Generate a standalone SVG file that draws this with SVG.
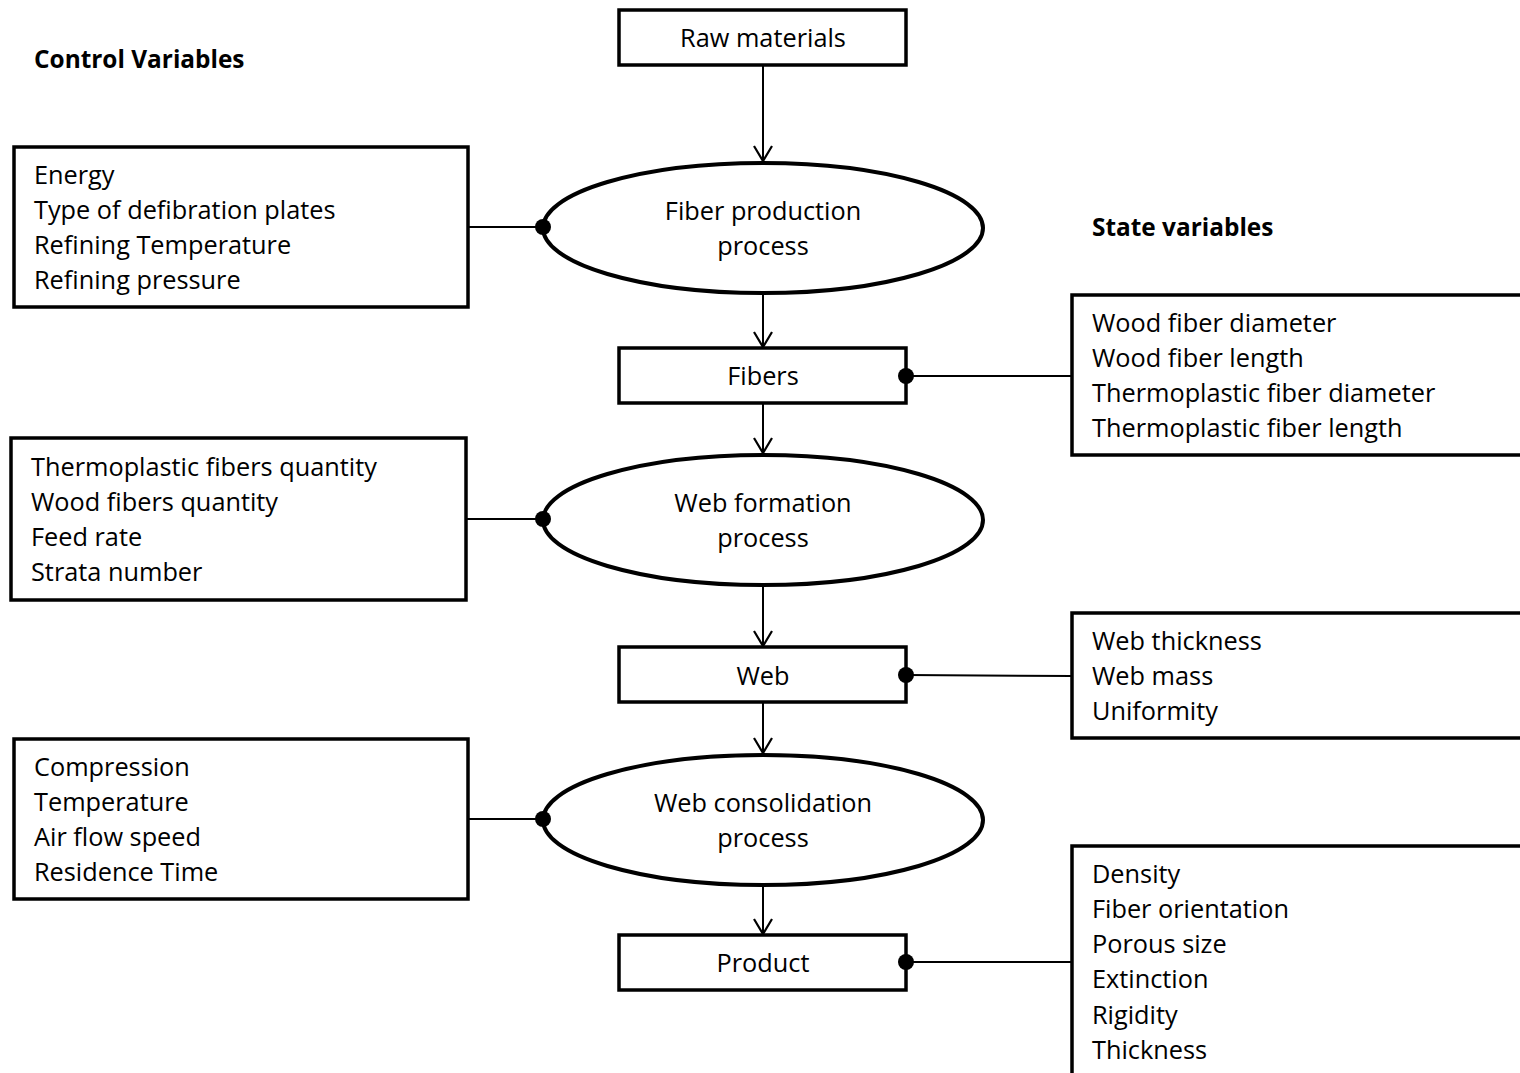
<svg xmlns="http://www.w3.org/2000/svg" width="1520" height="1073" viewBox="0 0 1520 1073">
  <style>
    text { font-family: "Open Sans", "Noto Sans", "Liberation Sans", sans-serif; font-size: 25.3px; fill: #000; }
    .c { text-anchor: middle; }
    .b { font-weight: bold; font-size: 24.4px; }
    .box { fill: #fff; stroke: #000; stroke-width: 3.5; }
    .proc { fill: #fff; stroke: #000; stroke-width: 4; }
    .flow { fill: none; stroke: #000; stroke-width: 2; marker-end: url(#vhead); }
    .link { fill: none; stroke: #000; stroke-width: 2; }
    .dot { fill: #000; }
  </style>
  <defs>
    <marker id="vhead" markerWidth="20" markerHeight="24" refX="16" refY="10" orient="auto" markerUnits="userSpaceOnUse" viewBox="0 0 20 20">
      <path d="M1,1 L16,10 L1,19" fill="none" stroke="#000" stroke-width="2.2"/>
    </marker>
  </defs>

  <rect width="1520" height="1073" fill="#fff"/>

  <!-- column headings -->
  <text class="b" x="34" y="68">Control Variables</text>
  <text class="b" x="1092" y="236">State variables</text>

  <!-- connectors: flow arrows and attachment lines -->
  <g id="connectors">
    <line class="flow" x1="763" y1="65" x2="763" y2="161"/>
    <line class="flow" x1="763" y1="293" x2="763" y2="347"/>
    <line class="flow" x1="763" y1="403" x2="763" y2="453"/>
    <line class="flow" x1="763" y1="585" x2="763" y2="646"/>
    <line class="flow" x1="763" y1="702" x2="763" y2="753"/>
    <line class="flow" x1="763" y1="885" x2="763" y2="934"/>

    <line class="link" x1="468" y1="227" x2="543" y2="227"/>
    <line class="link" x1="466" y1="519" x2="543" y2="519"/>
    <line class="link" x1="468" y1="819" x2="543" y2="819"/>
    <line class="link" x1="906" y1="376" x2="1072" y2="376"/>
    <line class="link" x1="906" y1="675" x2="1072" y2="676"/>
    <line class="link" x1="906" y1="962" x2="1072" y2="962"/>
  </g>

  <!-- main chain -->
  <g id="raw-materials">
    <rect class="box" x="619" y="10" width="287" height="55"/>
    <text class="c" x="763" y="47">Raw materials</text>
  </g>
  <g id="fiber-production">
    <ellipse class="proc" cx="763" cy="228" rx="220" ry="65"/>
    <text class="c" x="763" y="220">Fiber production</text>
    <text class="c" x="763" y="255">process</text>
  </g>
  <g id="fibers">
    <rect class="box" x="619" y="348" width="287" height="55"/>
    <text class="c" x="763" y="385">Fibers</text>
  </g>
  <g id="web-formation">
    <ellipse class="proc" cx="763" cy="520" rx="220" ry="65"/>
    <text class="c" x="763" y="512">Web formation</text>
    <text class="c" x="763" y="547">process</text>
  </g>
  <g id="web">
    <rect class="box" x="619" y="647" width="287" height="55"/>
    <text class="c" x="763" y="685">Web</text>
  </g>
  <g id="web-consolidation">
    <ellipse class="proc" cx="763" cy="820" rx="220" ry="65"/>
    <text class="c" x="763" y="812">Web consolidation</text>
    <text class="c" x="763" y="847">process</text>
  </g>
  <g id="product">
    <rect class="box" x="619" y="935" width="287" height="55"/>
    <text class="c" x="763" y="972">Product</text>
  </g>

  <!-- control variables -->
  <g id="ctrl-fiber-production">
    <rect class="box" x="14" y="147" width="454" height="160"/>
    <text x="34" y="184">Energy</text>
    <text x="34" y="219">Type of defibration plates</text>
    <text x="34" y="254">Refining Temperature</text>
    <text x="34" y="289">Refining pressure</text>
  </g>
  <g id="ctrl-web-formation">
    <rect class="box" x="11" y="438" width="455" height="162"/>
    <text x="31" y="476">Thermoplastic fibers quantity</text>
    <text x="31" y="511">Wood fibers quantity</text>
    <text x="31" y="546">Feed rate</text>
    <text x="31" y="581">Strata number</text>
  </g>
  <g id="ctrl-web-consolidation">
    <rect class="box" x="14" y="739" width="454" height="160"/>
    <text x="34" y="776">Compression</text>
    <text x="34" y="811">Temperature</text>
    <text x="34" y="846">Air flow speed</text>
    <text x="34" y="881">Residence Time</text>
  </g>

  <!-- state variables -->
  <g id="state-fibers">
    <rect class="box" x="1072" y="295" width="460" height="160"/>
    <text x="1092" y="332">Wood fiber diameter</text>
    <text x="1092" y="367">Wood fiber length</text>
    <text x="1092" y="402">Thermoplastic fiber diameter</text>
    <text x="1092" y="437">Thermoplastic fiber length</text>
  </g>
  <g id="state-web">
    <rect class="box" x="1072" y="613" width="460" height="125"/>
    <text x="1092" y="650">Web thickness</text>
    <text x="1092" y="685">Web mass</text>
    <text x="1092" y="720">Uniformity</text>
  </g>
  <g id="state-product">
    <rect class="box" x="1072" y="846" width="460" height="240"/>
    <text x="1092" y="883">Density</text>
    <text x="1092" y="918">Fiber orientation</text>
    <text x="1092" y="953">Porous size</text>
    <text x="1092" y="988">Extinction</text>
    <text x="1092" y="1024">Rigidity</text>
    <text x="1092" y="1059">Thickness</text>
  </g>

  <!-- attachment dots, drawn over the node outlines -->
  <g id="attach-dots">
    <circle class="dot" cx="543" cy="227" r="8"/>
    <circle class="dot" cx="543" cy="519" r="8"/>
    <circle class="dot" cx="543" cy="819" r="8"/>
    <circle class="dot" cx="906" cy="376" r="8"/>
    <circle class="dot" cx="906" cy="675" r="8"/>
    <circle class="dot" cx="906" cy="962" r="8"/>
  </g>
</svg>
